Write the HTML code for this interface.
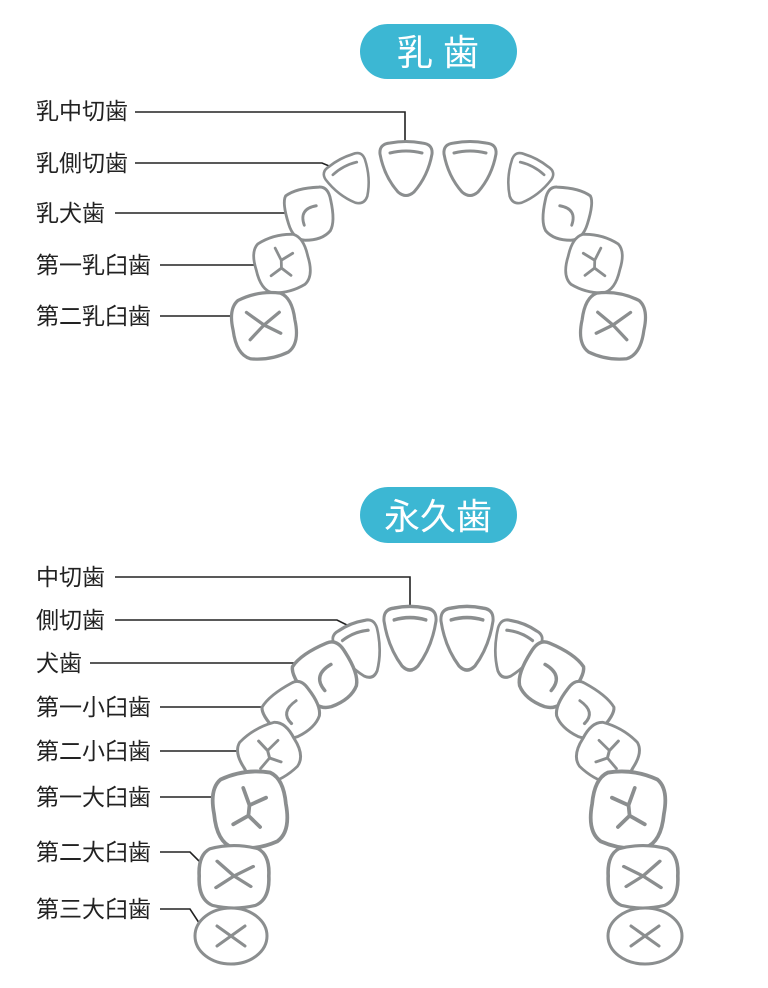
<!DOCTYPE html>
<html><head><meta charset="utf-8"><style>
html,body{margin:0;padding:0;background:#fff;}
body{width:768px;height:988px;position:relative;overflow:hidden;font-family:"Liberation Sans","Noto Sans CJK JP",sans-serif;}
</style></head><body>
<svg width="768" height="988" viewBox="0 0 768 988" xmlns="http://www.w3.org/2000/svg" style="position:absolute;left:0;top:0">
<defs>
<path id="inc" d="M -26,-16 Q -27,-26 -16,-27 Q 0,-30 16,-27 Q 27,-26 26,-16 Q 22,6 8,22 Q 0,29 -8,22 Q -22,6 -26,-16 Z"/>
<path id="incm" d="M -16,-17 Q 0,-21 16,-17"/>
<path id="can" d="M -22,-22 Q -10,-28 14,-25 Q 24,-24 24,-10 Q 25,12 18,20 Q 8,28 -10,25 Q -22,22 -24,6 Q -27,-16 -22,-22 Z"/>
<path id="canm" d="M -8,10 Q -11,-7 8,-7"/>
<path id="mol" d="M -20,-26 Q 0,-32 20,-26 Q 30,-20 29,0 Q 30,22 18,28 Q 0,33 -18,28 Q -30,22 -29,0 Q -30,-20 -20,-26 Z"/>
<path id="ym" d="M -3,-17 L 0,-3 L 14,-7 M 0,-3 L -2,5 L -15,10 M -2,5 L 6,15"/>
<path id="xm" d="M -14,-14 L 0,0 L 16,-9 M 0,0 L -15,11 M 0,0 L 14,10"/>
</defs>
<g fill="#3cb7d3">
<rect x="360" y="24" width="157" height="55" rx="27.5"/>
<rect x="360" y="487" width="157" height="56" rx="28"/>
</g>
<g fill="#fff" font-size="36" text-anchor="middle">
<text x="438" y="65">乳 歯</text>
<text x="438" y="529">永久歯</text>
</g>
<g font-size="23" fill="#222">
<text x="36" y="119">乳中切歯</text>
<text x="36" y="171">乳側切歯</text>
<text x="36" y="221">乳犬歯</text>
<text x="36" y="273">第一乳臼歯</text>
<text x="36" y="324">第二乳臼歯</text>
<text x="36" y="585">中切歯</text>
<text x="36" y="628">側切歯</text>
<text x="36" y="671">犬歯</text>
<text x="36" y="715">第一小臼歯</text>
<text x="36" y="759">第二小臼歯</text>
<text x="36" y="805">第一大臼歯</text>
<text x="36" y="860">第二大臼歯</text>
<text x="36" y="917">第三大臼歯</text>
</g>
<g stroke="#222" stroke-width="1.6" fill="none">
<path d="M135,112 H405 V150"/>
<path d="M135,163 H322 L346,173"/>
<path d="M115,213 H293"/>
<path d="M160,265 H263"/>
<path d="M160,316 H243"/>
<path d="M115,577 H410 V615"/>
<path d="M115,620 H337 L361,632"/>
<path d="M90,663 H307"/>
<path d="M160,707 H274"/>
<path d="M160,751 H252"/>
<path d="M160,797 H231"/>
<path d="M160,852 H190 L213,875"/>
<path d="M160,909 H190 L207,935"/>
</g>
<g stroke="#8b8e8f" stroke-width="3" fill="#fff" stroke-linecap="round" stroke-linejoin="round">
<g transform="translate(406,170)"><use href="#inc"/><use href="#incm" fill="none"/></g>
<g transform="translate(470,170) scale(-1,1)"><use href="#inc"/><use href="#incm" fill="none"/></g>
<g transform="translate(352,182) rotate(-28) scale(0.85,0.9)"><use href="#inc"/><use href="#incm" fill="none"/></g>
<g transform="translate(525,182) rotate(28) scale(0.85,0.9)"><use href="#inc"/><use href="#incm" fill="none"/></g>
<g transform="translate(310,214) rotate(-10) scale(0.95,1)"><use href="#can"/><use href="#canm" fill="none"/></g>
<g transform="translate(566,214) scale(-1,1) rotate(-10) scale(0.95,1)"><use href="#can"/><use href="#canm" fill="none"/></g>
<g transform="translate(282,263) rotate(-15) scale(0.92,0.95)"><use href="#mol"/><use href="#ym" fill="none"/></g>
<g transform="translate(594,263) scale(-1,1) rotate(-15) scale(0.92,0.95)"><use href="#mol"/><use href="#ym" fill="none"/></g>
<g transform="translate(264,325) rotate(-10) scale(1.08,1.1)"><use href="#mol"/><use href="#xm" fill="none"/></g>
<g transform="translate(613,325) scale(-1,1) rotate(-10) scale(1.08,1.1)"><use href="#mol"/><use href="#xm" fill="none"/></g>
<g transform="translate(410,640) scale(1,1.18)"><use href="#inc"/><use href="#incm" fill="none"/></g>
<g transform="translate(467,640) scale(-1,1.18)"><use href="#inc"/><use href="#incm" fill="none"/></g>
<g transform="translate(362,652) rotate(-22) scale(0.88,1.05)"><use href="#inc"/><use href="#incm" fill="none"/></g>
<g transform="translate(513,652) rotate(22) scale(0.88,1.05)"><use href="#inc"/><use href="#incm" fill="none"/></g>
<g transform="translate(327,676) rotate(-30) scale(1.15,1.15)"><use href="#can"/><use href="#canm" fill="none"/></g>
<g transform="translate(549,676) scale(-1,1) rotate(-30) scale(1.15,1.15)"><use href="#can"/><use href="#canm" fill="none"/></g>
<g transform="translate(293,711) rotate(-35) scale(1.05,0.95)"><use href="#can"/><use href="#canm" fill="none"/></g>
<g transform="translate(583,711) scale(-1,1) rotate(-35) scale(1.05,0.95)"><use href="#can"/><use href="#canm" fill="none"/></g>
<g transform="translate(269,753) rotate(-30) scale(1.0,0.92)"><use href="#mol"/><use href="#ym" fill="none"/></g>
<g transform="translate(608,753) scale(-1,1) rotate(-30) scale(1.0,0.92)"><use href="#mol"/><use href="#ym" fill="none"/></g>
<g transform="translate(250,809) rotate(-8) scale(1.25,1.28)"><use href="#mol"/><use href="#ym" fill="none"/></g>
<g transform="translate(628,809) scale(-1,1) rotate(-8) scale(1.25,1.28)"><use href="#mol"/><use href="#ym" fill="none"/></g>
<g transform="translate(234,876) scale(1.2,1.05)"><use href="#mol"/><use href="#xm" fill="none"/></g>
<g transform="translate(643,876) scale(-1.2,1.05)"><use href="#mol"/><use href="#xm" fill="none"/></g>
<g transform="translate(231,936)"><ellipse rx="36" ry="28"/><path d="M -14,-10 L 14,10 M 14,-10 L -14,10" fill="none"/></g>
<g transform="translate(645,936)"><ellipse rx="37" ry="28"/><path d="M -14,-10 L 14,10 M 14,-10 L -14,10" fill="none"/></g>
</g>
</svg>
</body></html>
